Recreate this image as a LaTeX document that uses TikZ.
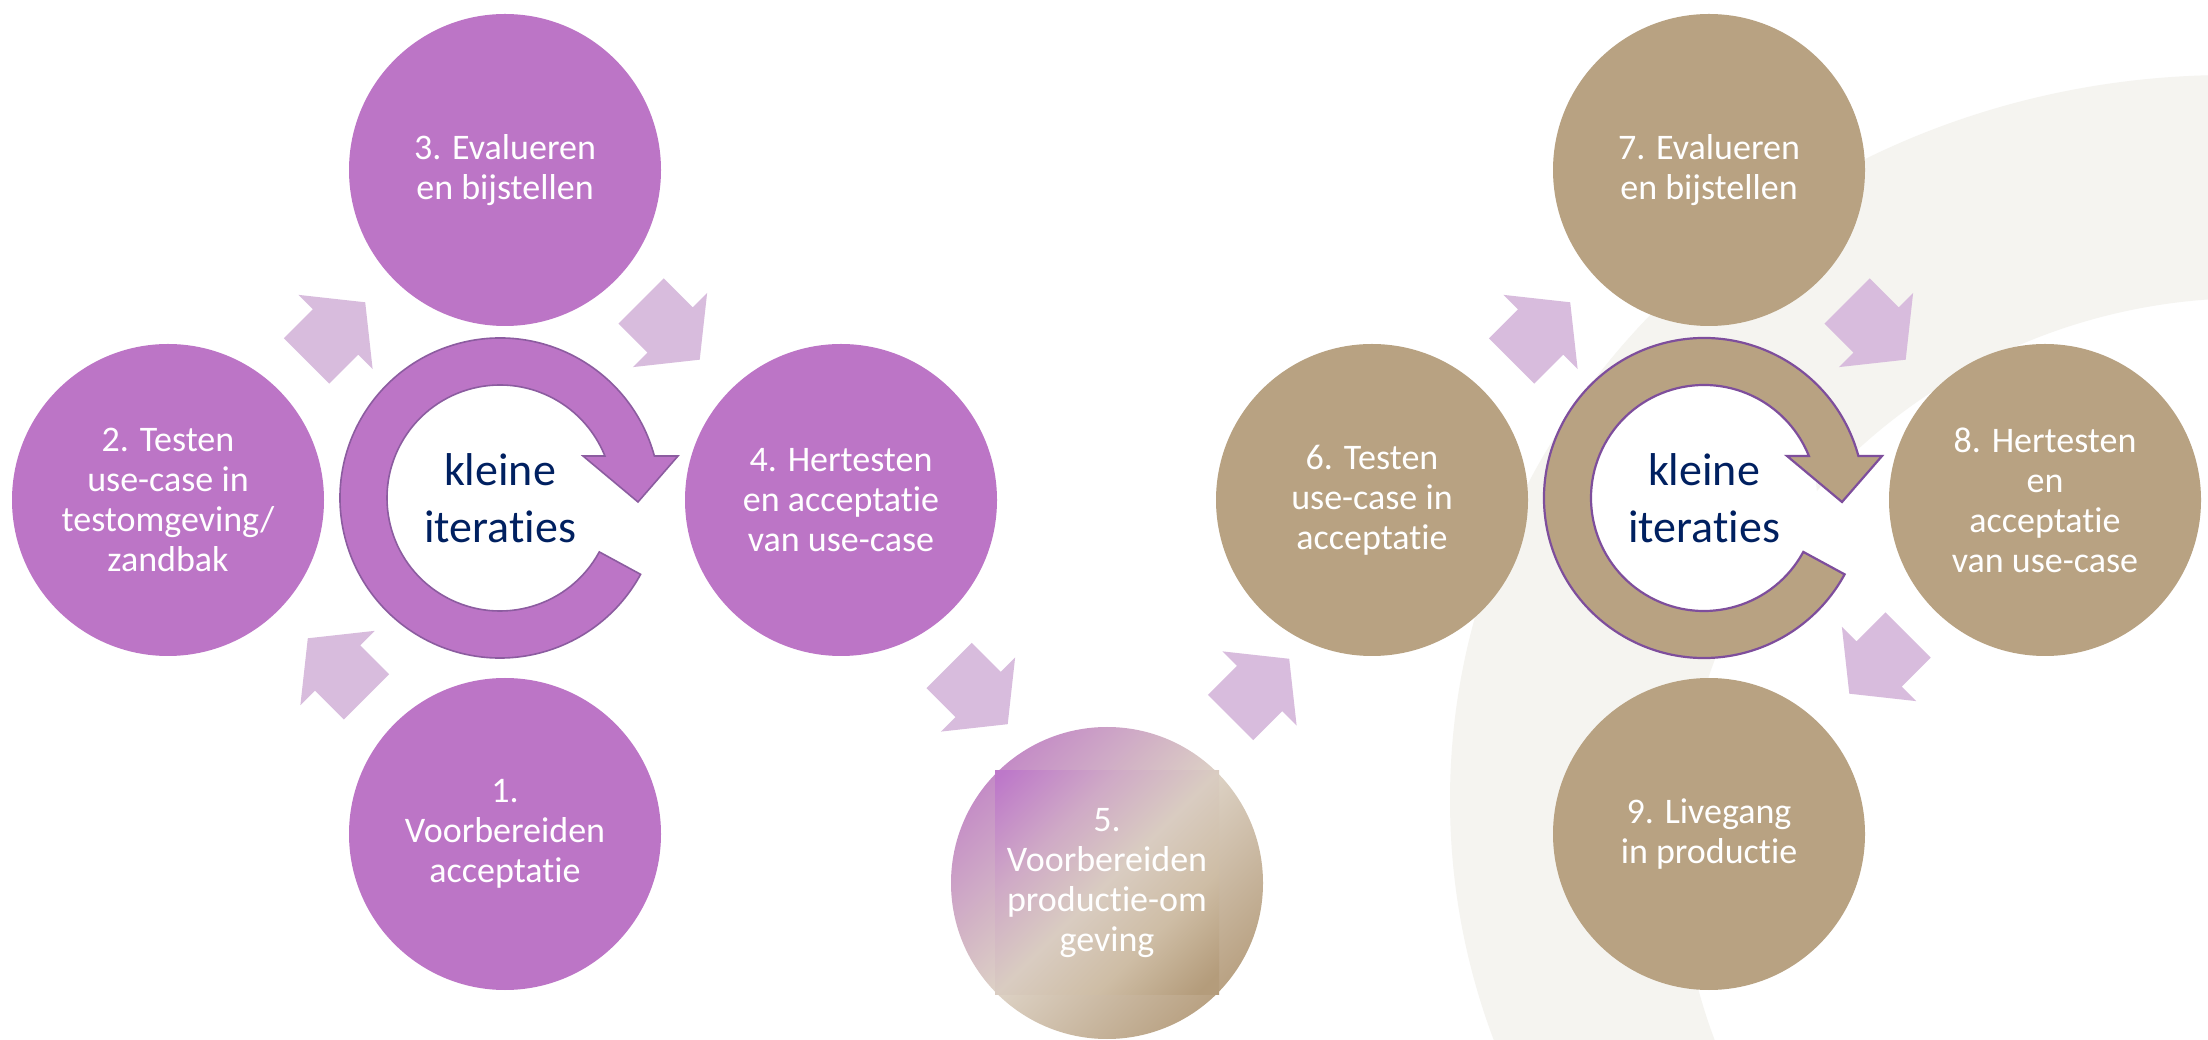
\documentclass[tikz,border=0pt]{standalone}
\usepackage{fontspec}
\setmainfont{Carlito}[Ligatures={NoCommon}]
\usetikzlibrary{calc}

\definecolor{stagepurple}{HTML}{BC75C6}
\definecolor{stagetan}{HTML}{B8A282}
\definecolor{arrowlilac}{HTML}{D8BCDD}
\definecolor{loopnavy}{HTML}{002060}
\definecolor{ringedgeL}{HTML}{8C5CA0}
\definecolor{ringedgeR}{HTML}{7E4E9C}
\definecolor{bandgray}{HTML}{F5F4F0}
\definecolor{mixpurple}{HTML}{C48CC6}
\definecolor{mixbeige}{HTML}{DDD2C5}
\definecolor{mixtan}{HTML}{B9A283}
\definecolor{sqpurple}{HTML}{BD78C9}
\definecolor{sqmauve}{HTML}{CFAAC6}
\definecolor{sqbeige}{HTML}{D9CCC1}
\definecolor{sqsand}{HTML}{CEBDA5}
\definecolor{sqtan}{HTML}{B49C7B}

% soft diagonal blend for the square panel of step 5
\pgfdeclareverticalshading{panelblend}{100bp}{%
  color(0bp)=(sqtan); color(18bp)=(sqtan); color(34bp)=(sqsand);
  color(50bp)=(sqbeige); color(66bp)=(sqmauve); color(84bp)=(sqpurple);
  color(100bp)=(sqpurple)}

\begin{document}
\begin{tikzpicture}[x=1pt,y=1pt,
  stage/.style={circle, minimum size=312pt, inner sep=0pt, align=center,
    text=white, font=\fontsize{36}{40}\selectfont},
  loopword/.style={align=center, text=loopnavy, font=\fontsize{46}{57}\selectfont},
  blockarrow/.pic={
    \fill[arrowlilac] (0,52.5) -- (42,0) -- (0,-52.5) -- (0,-32) -- (-41,-32)
      -- (-41,32) -- (0,32) -- cycle;},
  loopring/.pic={
    \path[pic actions] (15.2:160) arc[start angle=15.2, end angle=331.5, radius=160]
      -- (331.5:113) arc[start angle=331.5, end angle=21.8, radius=113]
      -- (83,42) -- (138,-4) -- (178,42) -- cycle;},
]
\useasboundingbox (0,0) rectangle (2208,1039);
\fill[white] (0,0) rectangle (2208,1039);

% faint sweeping band behind the production cycle
\begin{scope}
  \clip (0,0) rectangle (2208,1039);
  \fill[bandgray, even odd rule]
    (2230,239) ellipse [x radius=780, y radius=725]
    (2250,189) ellipse [x radius=570, y radius=552];
\end{scope}

% ---------- test cycle ----------
\node[stage, fill=stagepurple] (c3) at (505,869) {3. Evalueren\\en bijstellen};
\node[stage, fill=stagepurple] (c2) at (168,539) {2. Testen\\use-case in\\testomgeving/\\zandbak};
\node[stage, fill=stagepurple] (c4) at (841,539) {4. Hertesten\\en acceptatie\\van use-case};
\node[stage, fill=stagepurple] (c1) at (505,205) {1.\\Voorbereiden\\acceptatie};

\pic[fill=stagepurple, draw=ringedgeL, line width=1.6pt] at (500,541) {loopring};
\node[loopword] (loopL) at (500,541) {kleine\\iteraties};

% ---------- preparation step ----------
\shade[top color=mixpurple, bottom color=mixtan, middle color=mixbeige, shading angle=45]
  (1107,156) circle[radius=156];
\shade[shading=panelblend, shading angle=45]
  (995,45) rectangle (1219,268);
\node[stage] (c5) at (1107,156) {5.\\Voorbereiden\\productie-om\\geving};

% ---------- production cycle ----------
\node[stage, fill=stagetan] (c7) at (1709,869) {7. Evalueren\\en bijstellen};
\node[stage, fill=stagetan] (c6) at (1372,539) {6. Testen\\use-case in\\acceptatie};
\node[stage, fill=stagetan] (c8) at (2045,539) {8. Hertesten\\en\\acceptatie\\van use-case};
\node[stage, fill=stagetan] (c9) at (1709,205) {9. Livegang\\in productie};

\fill[white] (1704,541) circle[radius=113];
\pic[fill=stagetan, draw=ringedgeR, line width=2.2pt] at (1704,541) {loopring};
\node[loopword] (loopR) at (1704,541) {kleine\\iteraties};

% ---------- step arrows ----------
\pic[rotate=135] at ($(c1)!0.5!(c2)+(1,-1)$) {blockarrow};
\pic[rotate=45]  at ($(c2)!0.5!(c3)+(-1,3)$) {blockarrow};
\pic[rotate=-45] at ($(c3)!0.5!(c4)+(-3,5)$) {blockarrow};
\pic[rotate=-45] at ($(c4)!0.5!(c5)+(4,-3)$) {blockarrow};
\pic[rotate=45]  at ($(c5)!0.5!(c6)+(20,3)$) {blockarrow};
\pic[rotate=45]  at ($(c6)!0.5!(c7)+(0,3)$) {blockarrow};
\pic[rotate=-45] at ($(c7)!0.5!(c8)+(-1,5)$) {blockarrow};
\pic[rotate=-135] at ($(c8)!0.5!(c9)+(2,3)$) {blockarrow};
\end{tikzpicture}
\end{document}
